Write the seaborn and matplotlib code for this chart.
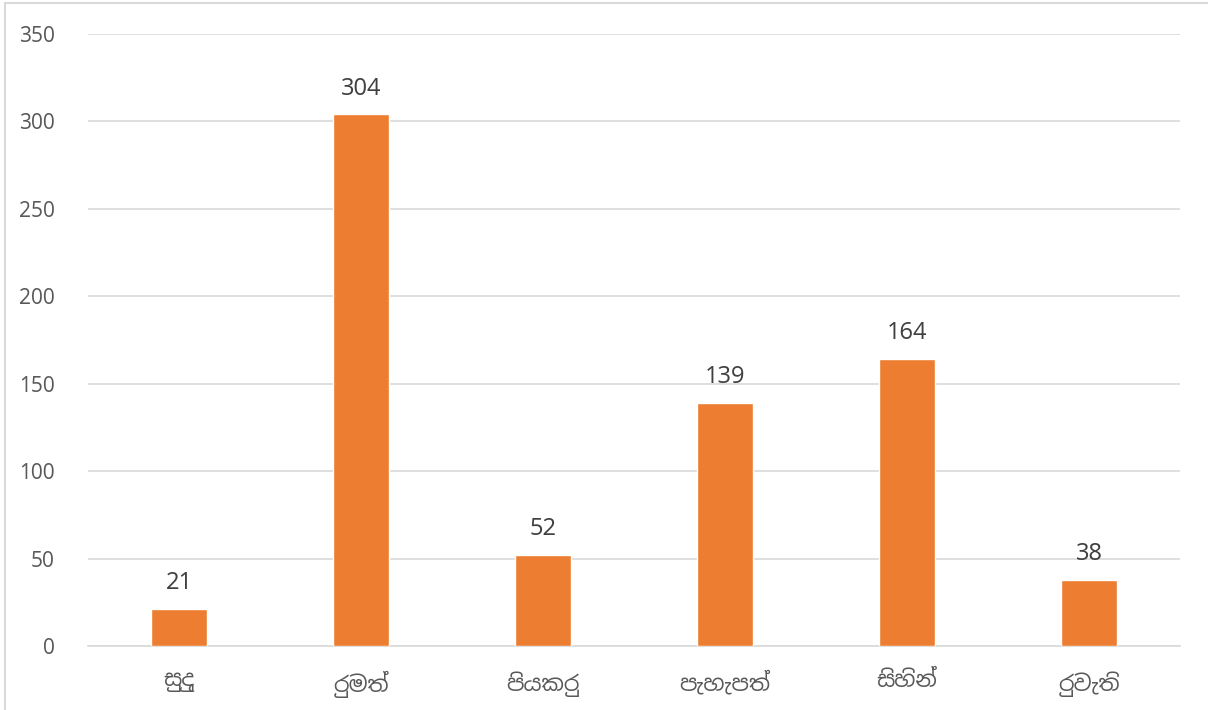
import matplotlib
matplotlib.use("Agg")
import matplotlib.pyplot as plt
import seaborn as sns
import pandas as pd
from matplotlib.lines import Line2D

categories = ["සුදු", "රුමත්", "පියකරු", "පැහැපත්", "සිහින්", "රුවැති"]
values = [21, 304, 52, 139, 164, 38]

sns.set_style("white")
plt.rcParams['font.family'] = ['Noto Sans Sinhala', 'Noto Sans', 'DejaVu Sans']

df = pd.DataFrame({"cat": categories, "val": values})

fig = plt.figure(figsize=(12.08, 7.10), dpi=100)
ax = fig.add_axes([88/1208, 64/710, 1092/1208, 612/710])

sns.barplot(data=df, x="cat", y="val", color="#ED7D31", width=0.31, ax=ax, zorder=3, saturation=1)

ax.set_ylim(0, 350)
ax.set_xlim(-0.5, 5.5)
ax.set_yticks(range(0, 351, 50))
ax.yaxis.grid(True, color="#D9D9D9", linewidth=1.2, zorder=0)
ax.set_axisbelow(True)
for s in ["top", "right", "left"]:
    ax.spines[s].set_visible(False)
ax.spines["bottom"].set_color("#D9D9D9")
ax.spines["bottom"].set_linewidth(1.2)
ax.tick_params(axis="y", length=0, labelsize=15, colors="#595959", pad=24)
ax.tick_params(axis="x", length=0, labelsize=16, colors="#595959", pad=18)
ax.set_xlabel("")
ax.set_ylabel("")

for i, v in enumerate(values):
    ax.annotate(str(v), (i, v), xytext=(0, 10), textcoords="offset points",
                ha="center", va="bottom", fontsize=17, color="#404040")

fig.lines.append(Line2D([5/1208, 5/1208], [0, 1 - 3/710], transform=fig.transFigure,
                        color="#D9D9D9", linewidth=1.5))
fig.lines.append(Line2D([5/1208, 1], [1 - 3/710, 1 - 3/710], transform=fig.transFigure,
                        color="#D9D9D9", linewidth=1.5))

fig.savefig("out.png", dpi=100)
